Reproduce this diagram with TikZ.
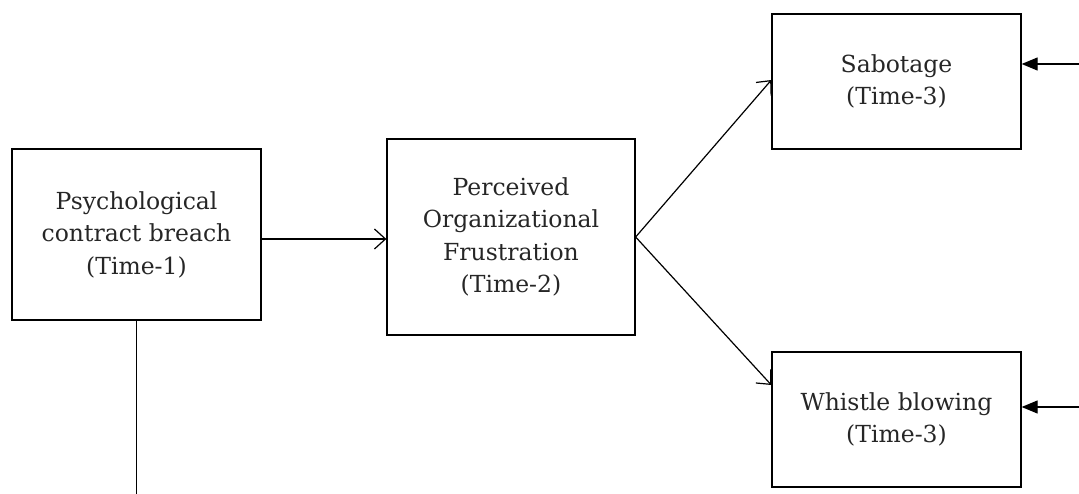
\documentclass[tikz,border=0pt]{standalone}
\usepackage{fontspec}
\setmainfont{DejaVu Serif}
\usetikzlibrary{arrows.meta}
\begin{document}
\begin{tikzpicture}[x=1pt,y=-1pt,
  box/.style={draw, line width=1.3pt, rectangle, align=center, inner sep=0pt,
    font=\fontsize{23.5}{32.5}\selectfont, text=black!85},
  conn/.style={line width=1.2pt},
  openarr/.style={conn, -{Straight Barb[length=11pt,width=20pt,line width=1.2pt]}},
  fillarr/.style={conn, -{Triangle[length=16pt,width=13pt]}}]
\useasboundingbox (0,0) rectangle (1079,494);
\node[box, minimum width=249pt, minimum height=171pt] (b1) at (136.5,234.5)
  {Psychological\\contract breach\\(Time-1)};
\node[box, minimum width=248pt, minimum height=196pt] (b2) at (511,237)
  {Perceived\\Organizational\\Frustration\\(Time-2)};
\node[box, minimum width=249pt, minimum height=135pt] (b3) at (896.5,81.5)
  {Sabotage\\(Time-3)};
\node[box, minimum width=249pt, minimum height=135pt] (b4) at (896.5,419.5)
  {Whistle blowing\\(Time-3)};
\coordinate (r3) at (1079,64);
\coordinate (r4) at (1079,407);
\coordinate (bot) at (136.5,494);
\draw[openarr] ([yshift=-4.5pt]b1.east) -- ([yshift=-2pt]b2.west);
\draw[openarr] (b2.east) -- ([yshift=1.5pt]b3.west);
\draw[openarr] (b2.east) -- ([yshift=34.5pt]b4.west);
\draw[fillarr] (r3) -- (b3.east |- r3);
\draw[fillarr] (r4) -- (b4.east |- r4);
\draw[conn] (b1.south) -- (bot);
\end{tikzpicture}
\end{document}
